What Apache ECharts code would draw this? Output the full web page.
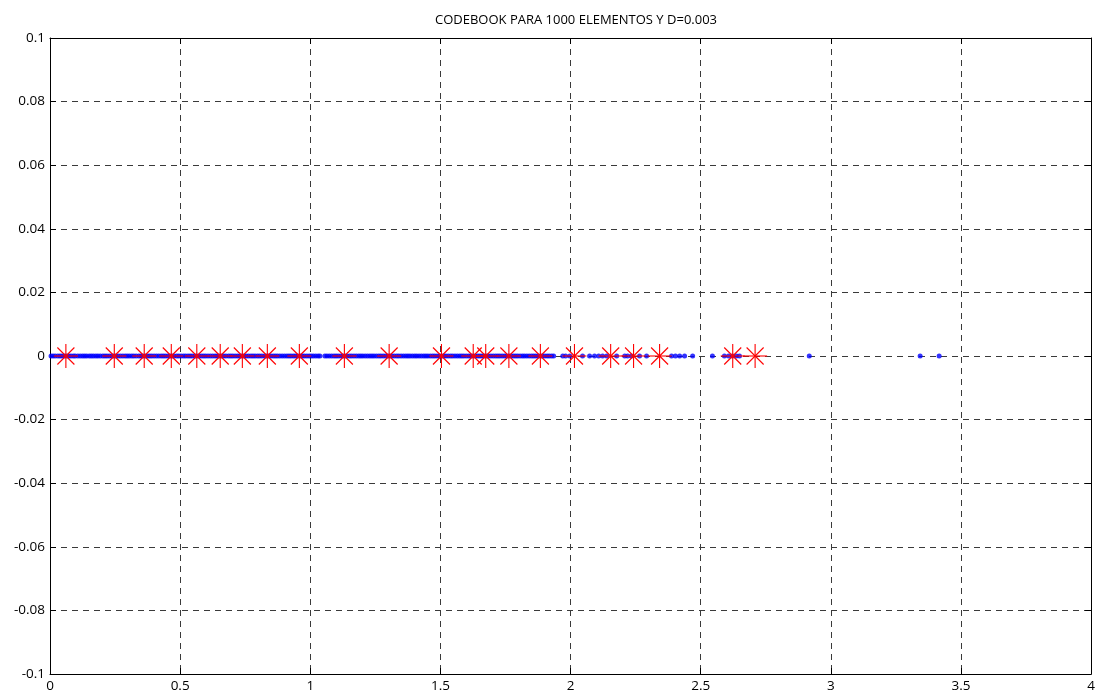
<!DOCTYPE html>
<html>
<head>
<meta charset="utf-8">
<script src="https://cdn.jsdelivr.net/npm/echarts@6/dist/echarts.min.js"></script>
<style>
html,body{margin:0;padding:0;background:#fff;}
#chart{width:1098px;height:700px;}
</style>
</head>
<body>
<div id="chart"></div>
<script>
const titleText = 'CODEBOOK PARA 1000 ELEMENTOS Y D=0.003';
const xTicks = [0, 0.5, 1, 1.5, 2, 2.5, 3, 3.5, 4];
const yTicks = [-0.1, -0.08, -0.06, -0.04, -0.02, 0, 0.02, 0.04, 0.06, 0.08, 0.1];

// training vectors (blue dots), all lying on y = 0
const dataX = [
0.004,0.012,0.020,0.030,0.038,0.046,0.055,0.064,0.073,0.081,0.090,0.097,0.107,0.116,0.125,0.133,0.141,0.151,0.159,0.167,
0.176,0.184,0.193,0.203,0.211,0.219,0.228,0.237,0.245,0.253,0.262,0.271,0.280,0.289,0.297,0.305,0.314,0.322,0.331,0.341,
0.349,0.357,0.366,0.375,0.383,0.391,0.400,0.409,0.418,0.427,0.435,0.443,0.452,0.461,0.469,0.477,0.487,0.495,0.504,0.513,
0.521,0.530,0.538,0.546,0.556,0.564,0.573,0.582,0.590,0.598,0.607,0.616,0.625,0.634,0.642,0.650,0.659,0.667,0.676,0.686,
0.694,0.702,0.711,0.720,0.728,0.736,0.745,0.754,0.763,0.772,0.780,0.788,0.797,0.805,0.814,0.824,0.832,0.840,0.849,0.858,
0.866,0.874,0.883,0.892,0.901,0.910,0.918,0.926,0.935,0.943,0.952,0.962,0.970,0.978,0.987,0.996,1.004,1.012,1.021,1.030,
1.037,1.056,1.064,1.073,1.082,1.091,1.099,1.107,1.116,1.125,1.133,1.141,1.151,1.159,1.168,1.177,1.186,1.194,1.202,1.211,
1.220,1.229,1.237,1.245,1.254,1.263,1.271,1.280,1.289,1.298,1.306,1.314,1.323,1.332,1.340,1.349,1.358,1.367,1.375,1.383,
1.392,1.401,1.409,1.418,1.427,1.436,1.444,1.452,1.461,1.470,1.478,1.487,1.496,1.505,1.513,1.521,1.530,1.539,1.547,1.556,
1.565,1.574,1.582,1.590,1.599,1.608,1.616,1.625,1.634,1.643,1.651,1.659,1.668,1.677,1.685,1.694,1.703,1.712,1.720,1.728,
1.737,1.746,1.754,1.763,1.772,1.781,1.789,1.797,1.806,1.815,1.823,1.832,1.841,1.850,1.858,1.866,1.875,1.884,1.892,1.901,
1.910,1.918,1.927,1.935,
1.970,1.981,1.997,2.046,2.073,2.092,2.108,2.123,2.139,2.177,2.208,2.219,2.234,2.265,2.292,
2.388,2.403,2.419,2.438,2.469,2.545,2.591,2.607,2.622,2.637,2.649,2.917,3.343,3.416
];

// codebook (red stars), all on y = 0
const codebookX = [
0.061,0.247,0.362,0.466,0.564,0.654,0.739,0.835,0.958,1.131,1.303,
1.504,1.626,1.674,1.763,1.884,2.015,2.154,2.242,2.342,2.623,2.709
];

const chart = echarts.init(document.getElementById('chart'), null, {renderer: 'canvas'});

const fontFam = '"Open Sans", "DejaVu Sans", sans-serif';
function fmt(v) { return String(parseFloat(Number(v).toFixed(3))); }

const gridLine = {show: true, lineStyle: {color: '#3a3a3a', type: [6, 5], width: 1}};

const option = {
  animation: false,
  backgroundColor: '#ffffff',
  title: {
    text: titleText,
    left: 571,
    textAlign: 'center',
    top: 9,
    textStyle: {fontFamily: fontFam, fontSize: 13, fontWeight: 'normal', color: '#000'}
  },
  grid: {left: 50, right: 6, top: 38, bottom: 26, containLabel: false},
  xAxis: [
    {
      type: 'value', position: 'bottom', min: xTicks[0], max: xTicks[xTicks.length - 1], interval: 0.5,
      axisLine: {show: true, onZero: false, lineStyle: {color: '#000', width: 1}},
      axisTick: {show: true, inside: true, length: 6, lineStyle: {color: '#000'}},
      axisLabel: {color: '#000', fontFamily: fontFam, fontSize: 13.5, margin: 5, formatter: fmt},
      splitLine: gridLine
    },
    {
      type: 'value', position: 'top', min: xTicks[0], max: xTicks[xTicks.length - 1], interval: 0.5,
      axisLine: {show: true, onZero: false, lineStyle: {color: '#000', width: 1}},
      axisTick: {show: true, inside: true, length: 6, lineStyle: {color: '#000'}},
      axisLabel: {show: false},
      splitLine: {show: false}
    }
  ],
  yAxis: [
    {
      type: 'value', position: 'left', min: yTicks[0], max: yTicks[yTicks.length - 1], interval: 0.02,
      axisLine: {show: true, onZero: false, lineStyle: {color: '#000', width: 1}},
      axisTick: {show: true, inside: true, length: 6, lineStyle: {color: '#000'}},
      axisLabel: {color: '#000', fontFamily: fontFam, fontSize: 13.5, margin: 5, formatter: fmt},
      splitLine: gridLine
    },
    {
      type: 'value', position: 'right', min: yTicks[0], max: yTicks[yTicks.length - 1], interval: 0.02,
      axisLine: {show: true, onZero: false, lineStyle: {color: '#000', width: 1}},
      axisTick: {show: true, inside: true, length: 6, lineStyle: {color: '#000'}},
      axisLabel: {show: false},
      splitLine: {show: false}
    }
  ],
  series: [
    {
      type: 'scatter',
      xAxisIndex: 0, yAxisIndex: 0,
      symbol: 'circle',
      symbolSize: 5,
      itemStyle: {color: '#0000ff'},
      z: 2,
      data: dataX.map(x => [x, 0])
    },
    {
      type: 'custom',
      xAxisIndex: 0, yAxisIndex: 0,
      z: 3,
      renderItem: function (params, api) {
        const p = api.coord([api.value(0), api.value(1)]);
        const a = 12, d = 8.5;
        const st = {stroke: '#ff0000', lineWidth: 1.1};
        return {
          type: 'group',
          children: [
            {type: 'line', shape: {x1: p[0] - a, y1: p[1], x2: p[0] + a, y2: p[1]}, style: st},
            {type: 'line', shape: {x1: p[0], y1: p[1] - a, x2: p[0], y2: p[1] + a}, style: st},
            {type: 'line', shape: {x1: p[0] - d, y1: p[1] - d, x2: p[0] + d, y2: p[1] + d}, style: st},
            {type: 'line', shape: {x1: p[0] - d, y1: p[1] + d, x2: p[0] + d, y2: p[1] - d}, style: st}
          ]
        };
      },
      data: codebookX.map(x => [x, 0])
    }
  ]
};
chart.setOption(option);
</script>
</body>
</html>
